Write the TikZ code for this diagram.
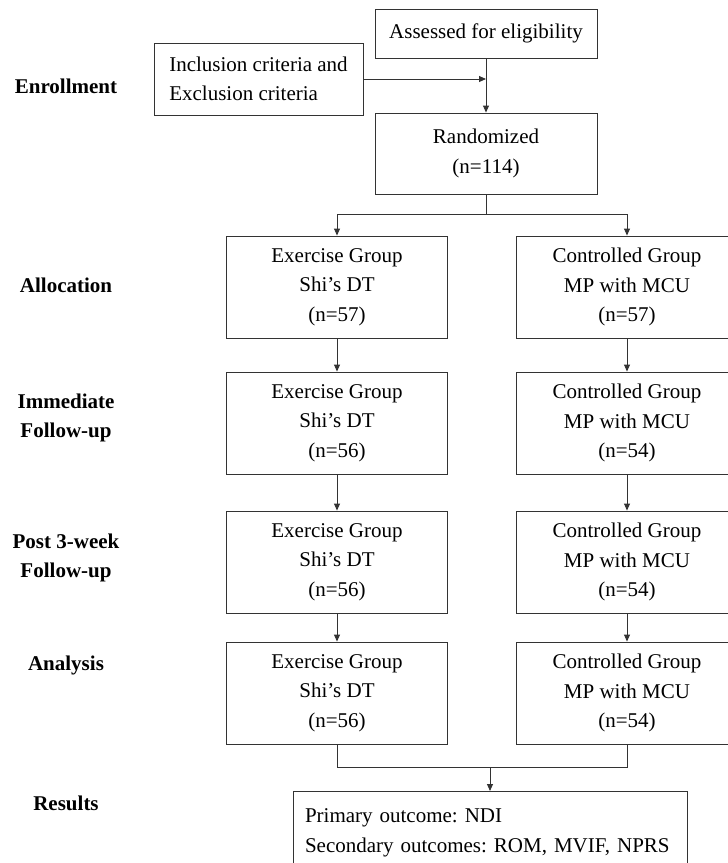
\documentclass[tikz,border=0pt]{standalone}
\usepackage{fontspec}
\setmainfont{Liberation Serif}
\usetikzlibrary{arrows.meta}
\frenchspacing

\tikzset{
  box/.style={draw=black!80, line width=0.9pt, rectangle, inner sep=0pt, align=center,
    font=\fontsize{21}{29.5}\selectfont},
  grpbox/.style={box, minimum width=221pt, minimum height=102pt},
  phase/.style={font=\fontsize{21}{29}\selectfont\bfseries, align=center},
  wire/.style={draw=black!80, line width=0.9pt},
  link/.style={wire, -{Triangle[length=7pt,width=6pt]}},
}

\begin{document}
\begin{tikzpicture}[x=1pt,y=-1pt]
% the page is the size of the reference; boxes on the right and bottom run off it
\useasboundingbox (0,0) rectangle (728,863);
% phase names down the left side
\node[phase] (enrol) at (66,86) {Enrollment};
\node[phase] (alloc) at (66,285) {Allocation};
\node[phase] (immed) at (66,417.5) {Immediate\\Follow-up};
\node[phase] (post) at (66,557.5) {Post 3-week\\ Follow-up};
\node[phase] (anal) at (66,665) {Analysis};
\node[phase] (resl) at (66,803) {Results};
% enrollment part
\node[box, minimum width=222pt, minimum height=49pt] (assess) at (486,33.5) {Assessed for eligibility};
\node[box, align=left, minimum width=209pt, minimum height=72pt] (crit) at (258.5,79) {Inclusion criteria and\\Exclusion criteria};
\node[box, minimum width=222pt, minimum height=81pt] (rand) at (486,153.5) {Randomized\\(n=114)};
\draw[link] (crit.east) -- (crit.east -| assess.south);
\draw[link] (assess) -- (rand);
% the two arms, one row per phase
\foreach \r/\yy/\a/\b in {A/287/57/57, B/423/56/54, C/562/56/54, D/693/56/54} {
  \node[grpbox] (ex\r) at (337,\yy) {Exercise Group\\Shi's DT\\(n=\a)};
  \node[grpbox] (ct\r) at (627,\yy) {Controlled Group\\MP with MCU\\(n=\b)};
}
% split after randomization
\coordinate (split) at (486,214);
\draw[wire] (rand) -- (split);
\draw[link] (split) -| (exA);
\draw[link] (split) -| (ctA);
% down each arm
\foreach \r/\s in {A/B, B/C, C/D} {
  \draw[link] (ex\r) -- (ex\s);
  \draw[link] (ct\r) -- (ct\s);
}
% outcomes box, its bottom edge is off the page
\node[box, anchor=north, align=left, text width=370pt, inner xsep=12pt, minimum height=83pt] (res) at (490,791)
  {Primary outcome: NDI\\Secondary outcomes: ROM, MVIF, NPRS};
\coordinate (merge) at (res.north |- 0,767);
\draw[wire] (exD) |- (merge) -| (ctD);
\draw[link] (merge) -- (res);
\end{tikzpicture}
\end{document}
